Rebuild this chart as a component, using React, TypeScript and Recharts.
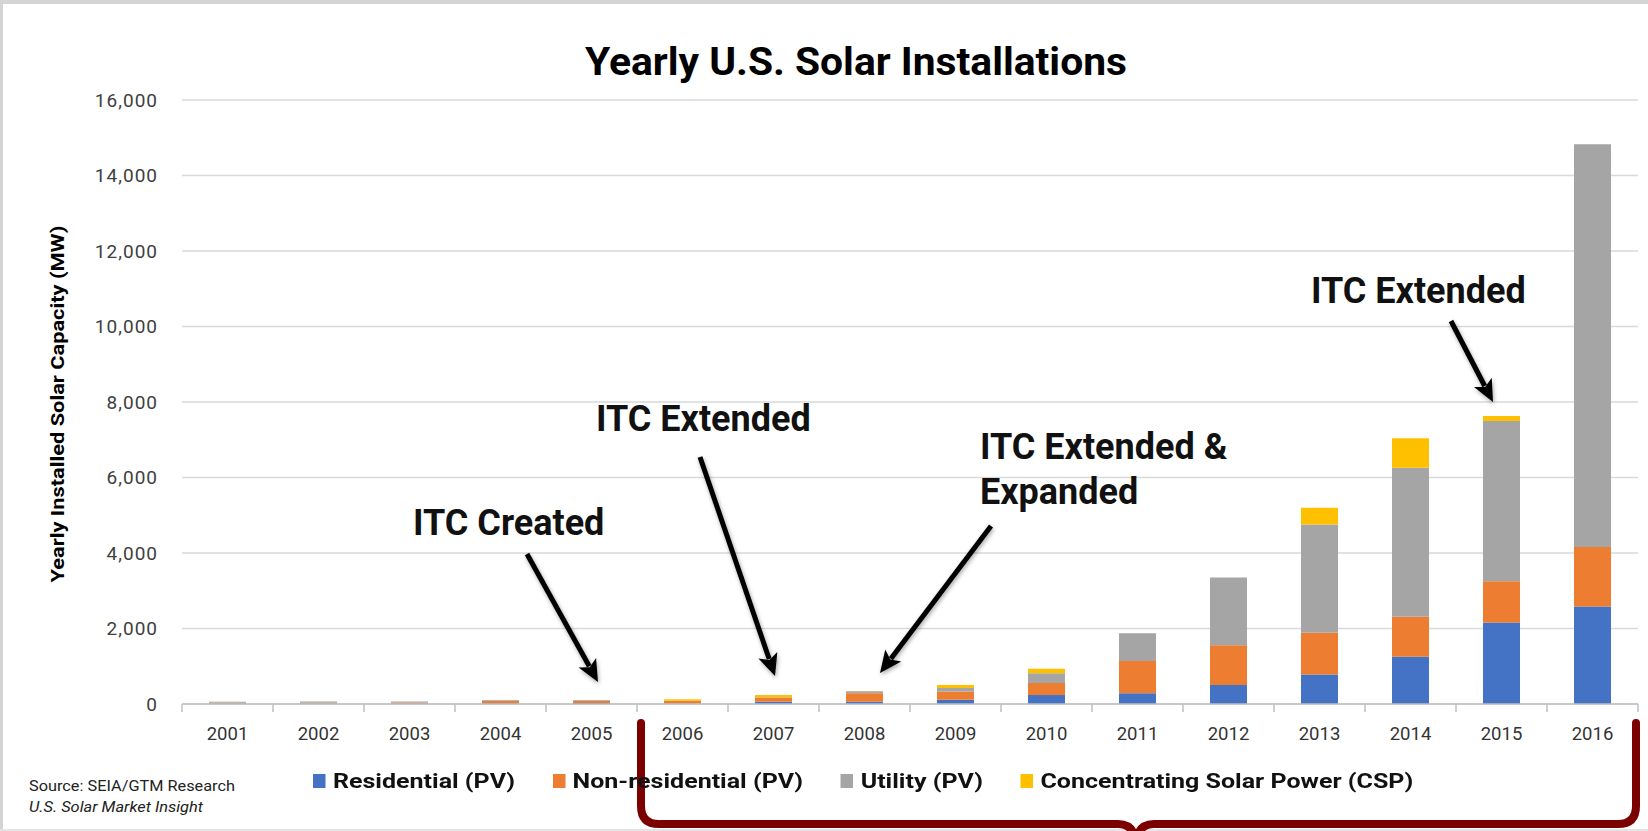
import React from 'react';
import { BarChart, Bar, XAxis, YAxis, CartesianGrid } from 'recharts';

const years = ['2001', '2002', '2003', '2004', '2005', '2006', '2007', '2008', '2009', '2010', '2011', '2012', '2013', '2014', '2015', '2016'];
const residential = [10, 12, 12, 20, 25, 15, 60, 60, 115, 240, 282, 502, 780, 1250, 2160, 2580];
const nonResidential = [20, 22, 25, 65, 60, 65, 115, 225, 213, 317, 855, 1057, 1110, 1060, 1090, 1580];
const utility = [30, 30, 28, 20, 20, 5, 5, 55, 98, 256, 740, 1790, 2865, 3950, 4250, 10670];
const csp = [0, 0, 0, 0, 0, 40, 60, 5, 80, 123, 0, 0, 445, 780, 130, 0];
const yTicks = [0, 2000, 4000, 6000, 8000, 10000, 12000, 14000, 16000];

const series = [
    { key: 'residential', name: 'Residential (PV)', color: '#4472c4', values: residential },
    { key: 'nonResidential', name: 'Non-residential (PV)', color: '#ed7d31', values: nonResidential },
    { key: 'utility', name: 'Utility (PV)', color: '#a5a5a5', values: utility },
    { key: 'csp', name: 'Concentrating Solar Power (CSP)', color: '#ffc000', values: csp },
];

const notes = [
    { lines: ['ITC Created'], x: 413, y: 535, from: [527, 554], to: [598, 682] },
    { lines: ['ITC Extended'], x: 596, y: 431, from: [700, 457], to: [775, 676] },
    { lines: ['ITC Extended &', 'Expanded'], x: 980, y: 459, from: [991, 526], to: [880, 673] },
    { lines: ['ITC Extended'], x: 1311, y: 303, from: [1451, 321], to: [1493, 402] },
];

const W = 1648;
const H = 831;
const PLOT_LEFT = 182;
const PLOT_RIGHT = 1638;
const BAND = (PLOT_RIGHT - PLOT_LEFT) / years.length;
const FONT = 'Roboto, "Noto Sans", sans-serif';

const data = years.map((year, i) => {
    const row: Record<string, string | number> = { year };
    series.forEach((s) => {
        row[s.key] = s.values[i];
    });
    return row;
});

function YearTick(props: any) {
    const { x, y, payload, index } = props;
    const half = BAND / 2;
    return (
        <g>
            <line x1={x - half} x2={x - half} y1={y} y2={y + 8} stroke="#bfbfbf" strokeWidth={1.5} />
            {index === years.length - 1 && (
                <line x1={x + half} x2={x + half} y1={y} y2={y + 8} stroke="#bfbfbf" strokeWidth={1.5} />
            )}
            <text x={x} y={y + 36} textAnchor="middle" fontSize={18.5} fill="#333" fontFamily={FONT}>
                {payload.value}
            </text>
        </g>
    );
}

function Arrow({ from, to }: { from: number[]; to: number[] }) {
    const [x1, y1] = from;
    const [x2, y2] = to;
    const len = Math.hypot(x2 - x1, y2 - y1);
    const ux = (x2 - x1) / len;
    const uy = (y2 - y1) / len;
    const head = 22;
    const hw = 10;
    const bx = x2 - ux * head;
    const by = y2 - uy * head;
    return (
        <g filter="url(#shadow)">
            <line x1={x1} y1={y1} x2={bx + ux * 4} y2={by + uy * 4} stroke="#000" strokeWidth={5} />
            <polygon
                points={`${x2},${y2} ${bx - uy * hw},${by + ux * hw} ${bx + ux * 5},${by + uy * 5} ${bx + uy * hw},${by - ux * hw}`}
                fill="#000"
            />
        </g>
    );
}

export default function App() {
    return (
        <div style={{ position: 'relative', width: W, height: H, background: '#fff', fontFamily: FONT, overflow: 'hidden' }}>
            <style>{'body{margin:0}'}</style>

            <BarChart
                width={W}
                height={H}
                data={data}
                margin={{ top: 100, right: W - PLOT_RIGHT, left: PLOT_LEFT - 60, bottom: 67 }}
                style={{ position: 'absolute', left: 0, top: 0 }}
            >
                <CartesianGrid vertical={false} stroke="#d9d9d9" strokeWidth={1.5} />
                <XAxis
                    dataKey="year"
                    height={60}
                    interval={0}
                    tickLine={false}
                    tickSize={0}
                    tickMargin={0}
                    axisLine={{ stroke: '#bfbfbf', strokeWidth: 1.5 }}
                    tick={<YearTick />}
                />
                <YAxis
                    width={60}
                    domain={[0, 16000]}
                    ticks={yTicks}
                    interval={0}
                    axisLine={false}
                    tickLine={false}
                    tickSize={0}
                    tickMargin={24}
                    tickFormatter={(v: number) => v.toLocaleString('en-US')}
                    tick={{ fontSize: 19, fill: '#404040', fontFamily: FONT, letterSpacing: 1 }}
                />
                {series.map((s) => (
                    <Bar
                        key={s.key}
                        dataKey={s.key}
                        name={s.name}
                        stackId="solar"
                        fill={s.color}
                        barSize={37}
                        isAnimationActive={false}
                    />
                ))}
            </BarChart>

            <svg width={W} height={H} style={{ position: 'absolute', left: 0, top: 0, pointerEvents: 'none' }}>
                <defs>
                    <filter id="shadow" x="-20%" y="-20%" width="140%" height="140%">
                        <feDropShadow dx="1" dy="2" stdDeviation="2" floodColor="#000" floodOpacity="0.35" />
                    </filter>
                </defs>

                <rect x={0} y={0} width={W} height={4} fill="#d4d4d4" />
                <rect x={0} y={0} width={3} height={H} fill="#d4d4d4" />
                <rect x={0} y={H - 2} width={W} height={2} fill="#e4e4e4" />

                <text x={856} y={75} textAnchor="middle" fontSize={38} fontWeight="bold" fill="#000" fontFamily={FONT} textLength={542} lengthAdjust="spacingAndGlyphs">
                    Yearly U.S. Solar Installations
                </text>

                <text
                    x={0}
                    y={0}
                    transform="translate(64 404) rotate(-90)"
                    textAnchor="middle"
                    fontSize={18}
                    fontWeight="bold"
                    fill="#000"
                    fontFamily={FONT}
                    textLength={357}
                    lengthAdjust="spacingAndGlyphs"
                >
                    Yearly Installed Solar Capacity (MW)
                </text>

                {notes.map((n, i) => (
                    <g key={i}>
                        {n.lines.map((line, j) => (
                            <text key={j} x={n.x} y={n.y + j * 45} fontSize={36} fontWeight="bold" fill="#111" fontFamily={FONT}>
                                {line}
                            </text>
                        ))}
                        <Arrow from={n.from} to={n.to} />
                    </g>
                ))}

                <g fill="none" stroke="#7b0000" strokeWidth={8} strokeLinecap="round" strokeLinejoin="round">
                    <path d="M 641 723 L 641 806 Q 641 824 659 824 L 1118 824 Q 1134 824 1136 842" />
                    <path d="M 1154 824 Q 1138 824 1136 842 M 1154 824 L 1618 824 Q 1636 824 1636 806 L 1636 723" />
                </g>

                <text x={29} y={791} fontSize={14.5} fill="#222" fontFamily={FONT} textLength={206} lengthAdjust="spacingAndGlyphs">
                    Source: SEIA/GTM Research
                </text>
                <text x={29} y={812} fontSize={14.5} fontStyle="italic" fill="#222" fontFamily={FONT} textLength={174} lengthAdjust="spacingAndGlyphs">
                    U.S. Solar Market Insight
                </text>
            </svg>

            <div
                style={{
                    position: 'absolute',
                    left: 313,
                    top: 769,
                    display: 'flex',
                    alignItems: 'center',
                    gap: 30,
                    whiteSpace: 'nowrap',
                    transform: 'scaleX(1.25)',
                    transformOrigin: 'left center',
                }}
            >
                {series.map((s) => (
                    <div key={s.key} style={{ display: 'flex', alignItems: 'center' }}>
                        <span style={{ width: 10, height: 14, background: s.color, marginRight: 6, display: 'inline-block' }} />
                        <span style={{ fontSize: 20, fontWeight: 700, color: '#111' }}>{s.name}</span>
                    </div>
                ))}
            </div>
        </div>
    );
}
